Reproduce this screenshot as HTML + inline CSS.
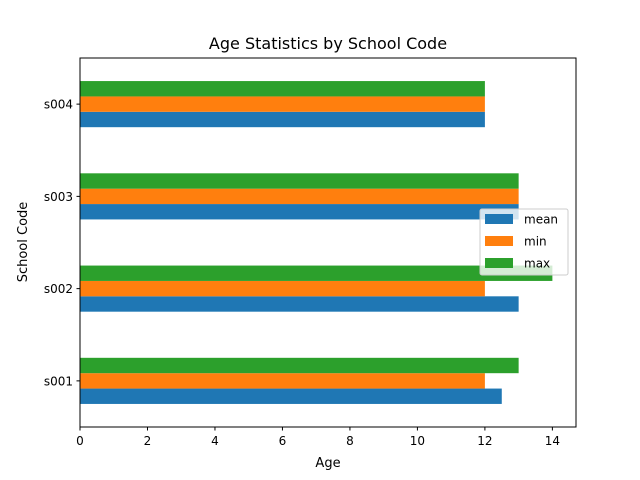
<!DOCTYPE html>
<html><head><meta charset="utf-8"><style>
body{margin:0;background:#fff;}
svg{display:block;font-family:"DejaVu Sans","Liberation Sans",sans-serif;}
</style></head><body>
<svg id="chart" width="640" height="480">
<rect width="640" height="480" fill="#fff"/>
<text x="328" y="49" text-anchor="middle" font-size="16">Age Statistics by School Code</text>
<g id="bars"></g>
<g id="xticks"></g>
<g id="yticks"></g>
<rect x="80" y="58" width="496" height="369" fill="none" stroke="#000" stroke-width="1"/>
<text x="328" y="467" text-anchor="middle" font-size="13">Age</text>
<text transform="translate(27,242) rotate(-90)" text-anchor="middle" font-size="13">School Code</text>
<g id="legend">
<rect x="480" y="209" width="88" height="66" rx="2" fill="#fff" fill-opacity="0.8" stroke="#ccc"/>
</g>
</svg>
<script>
const categories = ["s001","s002","s003","s004"];
const seriesNames = ["mean","min","max"];
const meanValues = [12.5, 13, 13, 12];
const minValues = [12, 12, 13, 12];
const maxValues = [13, 14, 13, 12];
const xTicks = [0,2,4,6,8,10,12,14];
const colors = ["#1f77b4","#ff7f0e","#2ca02c"];
const NS = "http://www.w3.org/2000/svg";
const X0=80, X1=576, Y0=58, Y1=427;
const xMax = Math.max(...meanValues,...minValues,...maxValues)*1.05;
function xs(v){return X0 + v/xMax*(X1-X0);}
function ys(v){return Y1 - (v+0.5)/categories.length*(Y1-Y0);}
function mk(tag, attrs, parent){const e=document.createElementNS(NS,tag);for(const k in attrs)e.setAttribute(k,attrs[k]);parent.appendChild(e);return e;}
const bars=document.getElementById('bars');
const series=[meanValues,minValues,maxValues];
const bw=0.5/3;
series.forEach((vals,si)=>{
  vals.forEach((v,ci)=>{
    const c=ci-0.25+bw*si+bw/2;
    const top=ys(c+bw/2), bot=ys(c-bw/2);
    const r=mk('rect',{x:xs(0),y:top,width:xs(v)-xs(0),height:bot-top,fill:colors[si]},bars);
    
    
  });
});
const xt=document.getElementById('xticks');
xTicks.forEach(t=>{
  const x=xs(t);
  const l=mk('line',{x1:x,x2:x,y1:Y1,y2:Y1+3.5,stroke:'#000'},xt);
  
  
  const tx=mk('text',{x:x,y:Y1+18,'text-anchor':'middle','font-size':'12'},xt);
  tx.textContent=t;
  
  
});
const yt=document.getElementById('yticks');
categories.forEach((c,i)=>{
  const y=ys(i);
  const l=mk('line',{x1:X0-3.5,x2:X0,y1:y,y2:y,stroke:'#000'},yt);
  
  
  const tx=mk('text',{x:X0-7,y:y+4.5,'text-anchor':'end','font-size':'12'},yt);
  tx.textContent=c;
  
  
});
const lg=document.getElementById('legend');
seriesNames.forEach((n,i)=>{
  const y=219+i*22;
  const r=mk('rect',{x:485,y:y-5,width:28,height:10,fill:colors[i]},lg);
  
  
  const t=mk('text',{x:524,y:y+4.5,'font-size':'12'},lg);
  t.textContent=n;
  
  
});
</script>
</body></html>
